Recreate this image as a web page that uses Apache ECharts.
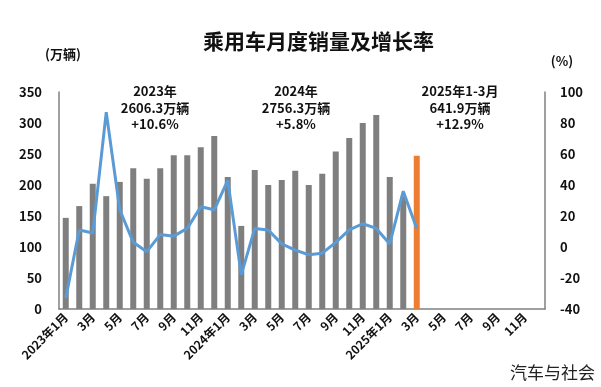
<!DOCTYPE html>
<html>
<head>
<meta charset="utf-8">
<script src="https://cdn.jsdelivr.net/npm/echarts@6/dist/echarts.min.js"></script>
<style>
html,body{margin:0;padding:0;background:#fff;}
#chart{width:601px;height:387px;}
</style>
</head>
<body>
<div id="chart"></div>
<script>
// ---- data ----
const years = [2023, 2024, 2025];
const categories = [];
years.forEach(y => { for (let m = 1; m <= 12; m++) categories.push(y + '年' + m + '月'); });
const sales = [147, 166, 202, 182, 205, 227, 210, 227, 248, 248, 261, 279,
               213, 134, 224, 200, 208, 223, 200, 218, 254, 276, 300, 313,
               213, 181, 247];
const growth = [-33, 11, 9, 87, 24, 3, -3, 8, 7, 12, 26, 24,
                43, -18, 12, 11, 2, -2, -5, -4, 3, 11, 15, 12,
                2, 36, 12];
const highlightIndex = 26;
const leftTicks = [0, 350, 50];
const rightTicks = [-40, 100, 20];
const separators = [12.15, 24.05];
const notes = [
  ['2023年', '2606.3万辆', '+10.6%'],
  ['2024年', '2756.3万辆', '+5.8%'],
  ['2025年1-3月', '641.9万辆', '+12.9%']
];
const title = '乘用车月度销量及增长率';
const leftUnit = '(万辆)';
const rightUnit = '(%)';
const source = '汽车与社会';

// ---- chart ----
const FONT = '"Noto Sans CJK SC", "Noto Sans", sans-serif';
const chart = echarts.init(document.getElementById('chart'), null, {renderer: 'canvas'});
const barData = sales.map((v, i) => i === highlightIndex
  ? {value: v, itemStyle: {color: '#ed7d31'}} : v);
const notePos = [[155, 83], [296, 83], [460, 83]];

chart.setOption({
  animation: false,
  backgroundColor: '#fff',
  title: {
    text: title, left: 198, top: 26,
    textStyle: {fontFamily: FONT, fontSize: 21, fontWeight: 'bold', color: '#111'}
  },
  grid: {left: 59, right: 56, top: 92, bottom: 78, containLabel: false},
  xAxis: [{
    type: 'category', data: categories,
    axisLine: {lineStyle: {color: '#808080', width: 1.5}},
    axisTick: {show: false},
    axisLabel: {
      interval: 1, rotate: 45, margin: 6,
      fontFamily: FONT, fontSize: 12, fontWeight: 'bold', color: '#111',
      formatter: v => v.endsWith('年1月') ? v : v.replace(/^\d+年/, '')
    }
  }, {
    type: 'value', min: 0, max: 36, show: false, position: 'top'
  }],
  yAxis: [{
    type: 'value', min: leftTicks[0], max: leftTicks[1], interval: leftTicks[2],
    axisLine: {show: true, lineStyle: {color: '#808080', width: 1.5}},
    axisTick: {show: false}, splitLine: {show: false},
    axisLabel: {fontFamily: FONT, fontSize: 13, fontWeight: 'bold', color: '#111', margin: 17}
  }, {
    type: 'value', min: rightTicks[0], max: rightTicks[1], interval: rightTicks[2],
    axisLine: {show: true, lineStyle: {color: '#808080', width: 1.5}},
    axisTick: {show: false}, splitLine: {show: false},
    axisLabel: {fontFamily: FONT, fontSize: 13, fontWeight: 'bold', color: '#111', margin: 15}
  }],
  series: [{
    type: 'bar', data: barData, barWidth: 6, xAxisIndex: 0, yAxisIndex: 0,
    itemStyle: {color: '#7f7f7f'}
  }, {
    type: 'line', data: [], xAxisIndex: 1, yAxisIndex: 0, clip: false,
    markLine: {
      silent: true, symbol: 'none', label: {show: false},
      lineStyle: {color: '#6fa3d6', width: 1, type: 'solid'},
      data: separators.map(s => [{coord: [s, 0]}, {coord: [s, 373]}])
    }
  }, {
    type: 'line', data: growth, xAxisIndex: 0, yAxisIndex: 1,
    symbol: 'none', smooth: false,
    lineStyle: {color: '#5b9bd5', width: 3}, itemStyle: {color: '#5b9bd5'}
  }],
  graphic: [
    {type: 'text', x: 63, y: 54, style: {text: leftUnit, x: 0, y: 0, align: 'center', verticalAlign: 'middle',
      font: 'bold 13px ' + FONT, fill: '#111'}},
    {type: 'text', x: 562, y: 61, style: {text: rightUnit, x: 0, y: 0, align: 'center', verticalAlign: 'middle',
      font: 'bold 13px ' + FONT, fill: '#111'}},
    {type: 'text', right: 6, top: 364, style: {text: source, font: '17px ' + FONT, fill: '#222'}}
  ].concat(notes.map((n, i) => ({
    type: 'text', x: notePos[i][0], y: notePos[i][1],
    style: {text: n.join('\n'), align: 'center', verticalAlign: 'top', lineHeight: 16.5,
      font: 'bold 13px ' + FONT, fill: '#111'}
  })))
});
</script>
</body>
</html>
